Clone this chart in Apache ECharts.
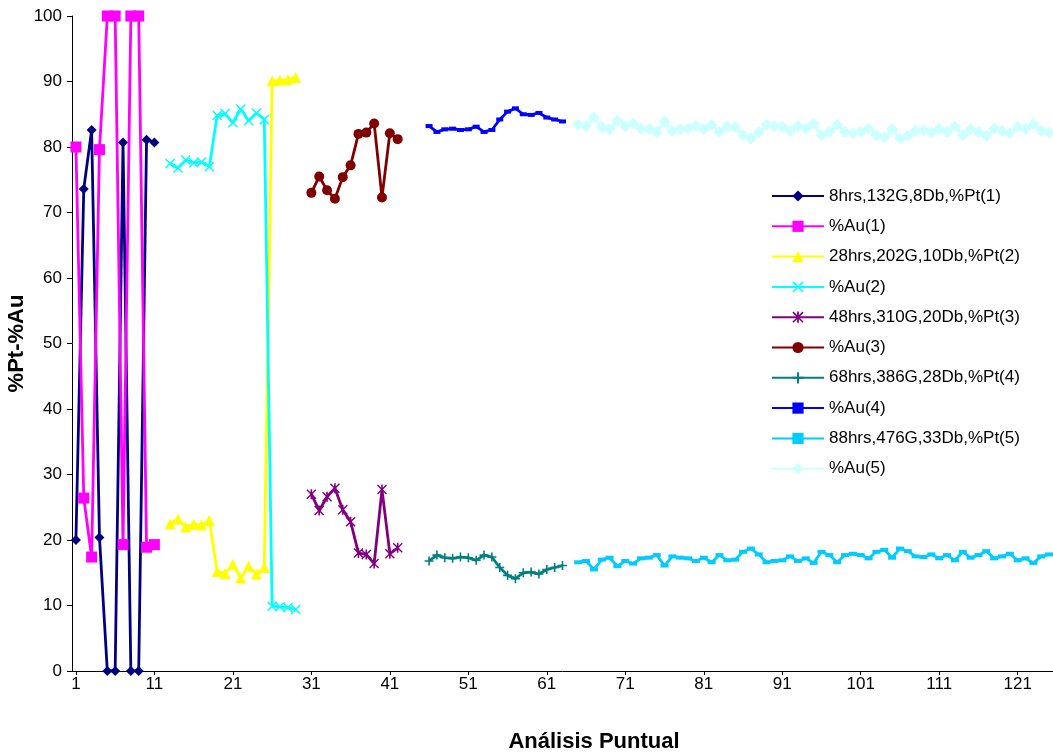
<!DOCTYPE html>
<html>
<head>
<meta charset="utf-8">
<title>%Pt-%Au</title>
<script src="https://cdn.jsdelivr.net/npm/echarts@6/dist/echarts.min.js"></script>
<style>
  html, body { margin: 0; padding: 0; background: #ffffff; }
  #chart { width: 1053px; height: 754px; }
</style>
</head>
<body>
<div id="chart"></div>
<script>
// Point analyses numbered 1..125 along the x axis
const categoryCount = 125;
const categories = Array.from({ length: categoryCount }, (_, i) => String(i + 1));

// Series names (legend order)
const seriesNames = [
  '8hrs,132G,8Db,%Pt(1)', '%Au(1)',
  '28hrs,202G,10Db,%Pt(2)', '%Au(2)',
  '48hrs,310G,20Db,%Pt(3)', '%Au(3)',
  '68hrs,386G,28Db,%Pt(4)', '%Au(4)',
  '88hrs,476G,33Db,%Pt(5)', '%Au(5)'
];

// First analysis number of each run
const start1 = 1, start2 = 13, start3 = 31, start4 = 46, start5 = 65;

// Run 1
const pt1 = [20.0, 73.6, 82.6, 20.4, 0, 0, 80.7, 0, 0, 81.1, 80.7];
const au1 = [80.0, 26.4, 17.4, 79.6, 100, 100, 19.3, 100, 100, 18.9, 19.3];

// Run 2
const pt2 = [22.5, 23.2, 22.0, 22.4, 22.3, 23.0, 15.2, 14.9, 16.3, 14.2, 16.0, 14.8, 15.8, 90.1, 90.2, 90.3, 90.6];
const au2 = [77.5, 76.8, 78.0, 77.6, 77.7, 77.0, 84.8, 85.1, 83.7, 85.8, 84.0, 85.2, 84.2, 9.9, 9.8, 9.7, 9.4];

// Run 3
const pt3 = [27.0, 24.5, 26.6, 27.9, 24.6, 22.8, 18.0, 17.8, 16.4, 27.7, 17.9, 18.8];
const au3 = [73.0, 75.5, 73.4, 72.1, 75.4, 77.2, 82.0, 82.2, 83.6, 72.3, 82.1, 81.2];

// Run 4
const pt4 = [16.8, 17.7, 17.3, 17.2, 17.4, 17.3, 16.9, 17.7, 17.4, 15.8, 14.6, 14.1, 15.0, 15.1, 14.8, 15.5, 15.8, 16.1];
const au4 = [83.2, 82.3, 82.7, 82.8, 82.6, 82.7, 83.1, 82.3, 82.6, 84.2, 85.4, 85.9, 85.0, 84.9, 85.2, 84.5, 84.2, 83.9];

// Run 5
const pt5 = [
  16.6, 16.8, 15.5, 17.0, 17.3, 16.0, 16.8, 16.4, 17.2, 17.3, 17.7, 16.1, 17.5, 17.3, 17.2,
  16.8, 17.3, 16.6, 17.7, 16.9, 17.0, 18.2, 18.7, 17.8, 16.6, 16.8, 16.9, 17.5, 16.8,
  17.2, 16.5, 18.2, 17.7, 16.6, 17.7, 17.9, 17.7, 17.2, 18.2, 18.5, 17.3, 18.7, 18.3, 17.5,
  17.4, 17.8, 17.2, 17.7, 16.9, 18.2, 17.3, 17.7, 18.3, 17.2, 17.5, 17.9, 16.9, 17.2, 16.5,
  17.5, 17.8
];
const au5 = [
  83.4, 83.2, 84.5, 83.0, 82.7, 84.0, 83.2, 83.6, 82.8, 82.7, 82.3, 83.9, 82.5, 82.7, 82.8,
  83.2, 82.7, 83.4, 82.3, 83.1, 83.0, 81.8, 81.3, 82.2, 83.4, 83.2, 83.1, 82.5, 83.2,
  82.8, 83.5, 81.8, 82.3, 83.4, 82.3, 82.1, 82.3, 82.8, 81.8, 81.5, 82.7, 81.3, 81.7, 82.5,
  82.6, 82.2, 82.8, 82.3, 83.1, 81.8, 82.7, 82.3, 81.7, 82.8, 82.5, 82.1, 83.1, 82.8, 83.5,
  82.5, 82.2
];

// Y-axis scale
const yMin = 0, yMax = 100, yStep = 10;

// Marker shapes drawn as filled outlines
const SYMBOL_X = 'path://M1,0 L5,4 L9,0 L10,1 L6,5 L10,9 L9,10 L5,6 L1,10 L0,9 L4,5 L0,1 Z';
const SYMBOL_STAR = 'path://M1,0 L5,4 L9,0 L10,1 L6,5 L10,9 L9,10 L5,6 L1,10 L0,9 L4,5 L0,1 Z M4.2,0 L5.8,0 L5.8,10 L4.2,10 Z';
const SYMBOL_PLUS = 'path://M4.1,0 L5.9,0 L5.9,4.1 L10,4.1 L10,5.9 L5.9,5.9 L5.9,10 L4.1,10 L4.1,5.9 L0,5.9 L0,4.1 L4.1,4.1 Z';

function pairs(start, values) {
  return values.map((v, i) => [String(start + i), v]);
}

const runs = [
  { data: pairs(start1, pt1), color: '#000080', symbol: 'diamond', size: 10 },
  { data: pairs(start1, au1), color: '#FF00FF', symbol: 'rect', size: 11 },
  { data: pairs(start2, pt2), color: '#FFFF00', symbol: 'triangle', size: 11 },
  { data: pairs(start2, au2), color: '#00FFFF', symbol: SYMBOL_X, size: 10 },
  { data: pairs(start3, pt3), color: '#800080', symbol: SYMBOL_STAR, size: 10 },
  { data: pairs(start3, au3), color: '#800000', symbol: 'circle', size: 10 },
  { data: pairs(start4, pt4), color: '#008080', symbol: SYMBOL_PLUS, size: 9 },
  { data: pairs(start4, au4), color: '#0000FF', symbol: 'rect', size: [7, 4] },
  { data: pairs(start5, pt5), color: '#00CCFF', symbol: 'rect', size: [8, 4] },
  { data: pairs(start5, au5), color: '#CCFFFF', symbol: 'diamond', size: 12 }
];

const FONT = "'Liberation Sans', Arial, sans-serif";

const option = {
  animation: false,
  backgroundColor: '#ffffff',
  textStyle: { fontFamily: FONT, color: '#000000' },
  grid: { left: 72, right: 0, top: 16, bottom: 83, containLabel: false, outerBoundsMode: 'none' },
  legend: {
    orient: 'vertical',
    left: 766,
    top: 181,
    itemWidth: 52,
    itemHeight: 14,
    itemGap: 10.3,
    data: seriesNames,
    textStyle: { fontFamily: FONT, fontSize: 17, color: '#000000', lineHeight: 20 }
  },
  xAxis: {
    type: 'category',
    data: categories,
    boundaryGap: true,
    axisLine: { show: true, lineStyle: { color: '#000000', width: 1 } },
    axisTick: { show: true, interval: 9, alignWithLabel: true, length: 4, lineStyle: { color: '#000000' } },
    axisLabel: { interval: 9, margin: 5, fontSize: 17, color: '#000000', fontFamily: FONT },
    splitLine: { show: false }
  },
  yAxis: {
    type: 'value',
    min: yMin,
    max: yMax,
    interval: yStep,
    name: '%Pt-%Au',
    nameLocation: 'middle',
    nameRotate: 90,
    nameGap: 44,
    nameMoveOverlap: false,
    nameTextStyle: { fontFamily: FONT, fontSize: 22, fontWeight: 'bold', color: '#000000' },
    axisLine: { show: true, lineStyle: { color: '#000000', width: 1 } },
    axisTick: { show: true, inside: false, length: 5, lineStyle: { color: '#000000' } },
    axisLabel: { margin: 10, fontSize: 17, color: '#000000', fontFamily: FONT },
    splitLine: { show: false }
  },
  graphic: [{
    type: 'text',
    x: 594,
    y: 742,
    style: {
      text: 'Análisis Puntual',
      font: "bold 22px 'Liberation Sans', Arial, sans-serif",
      fill: '#000000',
      textAlign: 'center',
      textVerticalAlign: 'middle'
    }
  }],
  series: runs.map((r, i) => ({
    name: seriesNames[i],
    type: 'line',
    data: r.data,
    symbol: r.symbol,
    symbolSize: r.size,
    symbolKeepAspect: true,
    showSymbol: true,
    showAllSymbol: true,
    lineStyle: { color: r.color, width: 2.8 },
    itemStyle: { color: r.color, borderColor: r.color, borderWidth: 0 },
    emphasis: { disabled: true }
  }))
};

const chart = echarts.init(document.getElementById('chart'), null, { renderer: 'canvas' });
chart.setOption(option);
</script>
</body>
</html>
